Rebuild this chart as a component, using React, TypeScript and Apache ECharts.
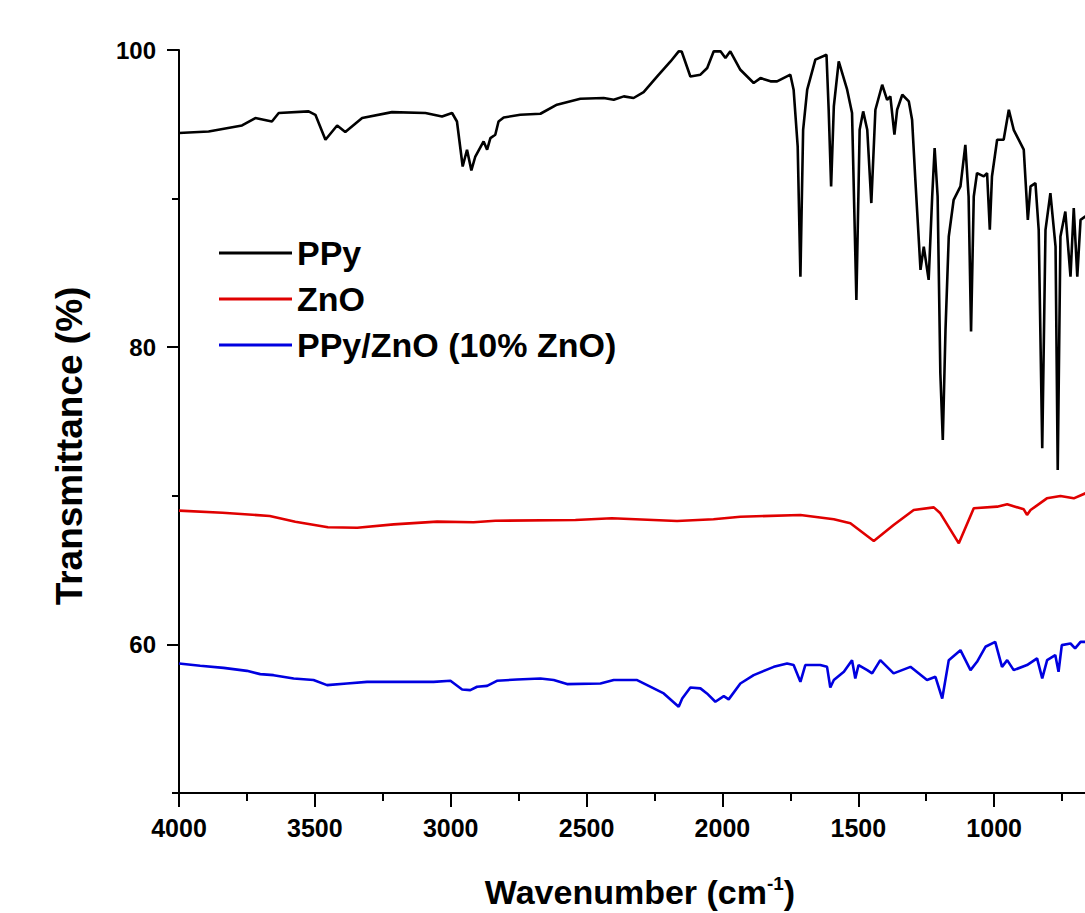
import React, { useEffect, useRef } from "react";
import * as echarts from "echarts";

// ---- Data ----
const ppyWavenumber = [
  4000, 3891, 3768, 3719, 3658, 3633, 3523, 3498, 3461, 3418, 3388, 3326, 3216, 3093, 3032, 2995,
  2977, 2956, 2940, 2924, 2910, 2879, 2866, 2854, 2836, 2824, 2805, 2744, 2670, 2609, 2523, 2437,
  2400, 2363, 2327, 2290, 2240, 2191, 2161, 2150, 2118, 2081, 2056, 2032, 2007, 1989, 1971, 1934,
  1885, 1860, 1823, 1799, 1750, 1738, 1723, 1713, 1703, 1688, 1658, 1617, 1609, 1600, 1590, 1572,
  1541, 1523, 1507, 1495, 1482, 1467, 1452, 1437, 1412, 1394, 1382, 1367, 1357, 1338, 1314, 1302,
  1290, 1271, 1259, 1241, 1228, 1219, 1208, 1198, 1189, 1179, 1167, 1149, 1124, 1106, 1094, 1085,
  1075, 1063, 1038, 1026, 1016, 1008, 989, 965, 946, 928, 891, 876, 866, 848, 836, 823,
  811, 793, 774, 766, 756, 738, 719, 707, 694, 682, 664, 650,
];
const ppyTransmittance = [
  94.41, 94.52, 94.92, 95.42, 95.19, 95.76, 95.87, 95.64, 93.96, 94.92, 94.48, 95.42, 95.82, 95.76, 95.53, 95.76,
  95.19, 92.16, 93.29, 91.9, 92.8, 93.85, 93.29, 94.07, 94.3, 95.19, 95.46, 95.64, 95.71, 96.32, 96.72, 96.77,
  96.65, 96.88, 96.77, 97.17, 98.22, 99.23, 99.91, 99.9, 98.22, 98.34, 98.79, 99.91, 99.91, 99.46, 99.91, 98.67,
  97.78, 98.11, 97.89, 97.89, 98.34, 97.33, 93.51, 84.75, 94.63, 97.33, 99.35, 99.68, 95.98, 90.82, 96.2, 99.23,
  97.33, 95.76, 83.18, 94.63, 95.87, 94.63, 89.7, 95.98, 97.66, 96.65, 96.88, 94.3, 95.98, 96.99, 96.54, 95.31,
  91.27, 85.2, 86.77, 84.53, 90.14, 93.4, 90.14, 78.25, 73.76, 81.17, 87.45, 89.92, 90.82, 93.62, 90.14, 81.05,
  90.14, 91.72, 91.49, 91.72, 87.9, 91.49, 93.96, 93.96, 95.98, 94.63, 93.29, 88.57, 90.82, 91.04, 87.9, 73.2,
  87.9, 90.37, 86.77, 71.74, 87.45, 89.13, 84.75, 89.36, 84.75, 88.57, 88.8, 88.6,
];

const znoWavenumber = [
  4000, 3840, 3666, 3572, 3452, 3344, 3210, 3050, 2916, 2836, 2541, 2407, 2167, 2033, 1934, 1713,
  1590, 1529, 1443, 1370, 1296, 1222, 1198, 1130, 1075, 989, 952, 891, 879, 866, 806, 756,
  707, 664, 650,
];
const znoTransmittance = [
  69.0, 68.86, 68.64, 68.26, 67.88, 67.85, 68.08, 68.26, 68.22, 68.32, 68.37, 68.49, 68.3, 68.42, 68.59, 68.71,
  68.42, 68.15, 66.96, 68.03, 69.04, 69.22, 68.82, 66.8, 69.16, 69.27, 69.43, 69.09, 68.71, 69.04, 69.83, 69.99,
  69.83, 70.17, 70.2,
];

const compWavenumber = [
  4000, 3922, 3836, 3750, 3701, 3652, 3578, 3505, 3455, 3382, 3308, 3185, 3063, 3001, 2958, 2928,
  2903, 2866, 2830, 2756, 2670, 2621, 2572, 2449, 2400, 2314, 2277, 2216, 2161, 2148, 2118, 2081,
  2057, 2026, 1995, 1977, 1934, 1885, 1811, 1762, 1738, 1713, 1695, 1640, 1615, 1603, 1590, 1553,
  1523, 1511, 1499, 1467, 1449, 1419, 1370, 1308, 1247, 1216, 1191, 1167, 1124, 1087, 1063, 1032,
  996, 971, 952, 928, 879, 842, 823, 805, 775, 763, 751, 719, 702, 682, 664, 650,
];
const compTransmittance = [
  58.72, 58.56, 58.42, 58.22, 58.0, 57.93, 57.71, 57.6, 57.26, 57.37, 57.48, 57.48, 57.48, 57.55, 56.97, 56.92,
  57.15, 57.21, 57.55, 57.64, 57.71, 57.6, 57.33, 57.37, 57.6, 57.6, 57.26, 56.7, 55.8, 56.36, 57.1, 57.04,
  56.7, 56.14, 56.52, 56.3, 57.37, 57.93, 58.49, 58.72, 58.61, 57.48, 58.61, 58.61, 58.49, 57.1, 57.6, 58.16,
  58.94, 57.71, 58.61, 58.27, 58.05, 58.94, 58.05, 58.49, 57.6, 57.82, 56.36, 58.94, 59.61, 58.27, 58.83, 59.84,
  60.17, 58.49, 58.94, 58.27, 58.61, 59.06, 57.71, 58.94, 59.28, 58.16, 59.95, 60.06, 59.73, 60.17, 60.17, 60.2,
];

const seriesNames = ["PPy", "ZnO", "PPy/ZnO (10% ZnO)"];
const seriesColors = ["#000000", "#e00000", "#0000e0"];
const xTickValues = [4000, 3500, 3000, 2500, 2000, 1500, 1000, 500];
const xLabelValues = [4000, 3500, 3000, 2500, 2000, 1500, 1000];
const yLabelValues = [60, 80, 100];
const yMinorValues = [50, 70, 90];

const zip = (xs: number[], ys: number[]) => xs.map((x, i) => [x, ys[i]]);

const FONT = "Liberation Sans, Arial, sans-serif";

export default function App() {
  const ref = useRef<HTMLDivElement>(null);

  useEffect(() => {
    if (!ref.current) return;
    const chart = echarts.init(ref.current, undefined, { renderer: "svg" });
    const seriesData = [
      zip(ppyWavenumber, ppyTransmittance),
      zip(znoWavenumber, znoTransmittance),
      zip(compWavenumber, compTransmittance),
    ];
    chart.setOption({
      animation: false,
      backgroundColor: "#ffffff",
      grid: {
        left: 179,
        top: 50,
        right: -45,
        bottom: 120,
        containLabel: false,
        outerBoundsMode: "none",
      },
      legend: {
        orient: "vertical",
        left: 219,
        top: 236,
        padding: 0,
        itemWidth: 73,
        itemHeight: 3,
        itemGap: 12,
        icon: "rect",
        data: seriesNames,
        textStyle: {
          fontFamily: FONT,
          fontWeight: "bold",
          fontSize: 34,
          color: "#000",
          lineHeight: 34,
        },
      },
      xAxis: {
        type: "value",
        min: 500,
        max: 4000,
        interval: 500,
        inverse: true,
        axisLine: { show: true, onZero: false, lineStyle: { color: "#000", width: 2 } },
        axisTick: { show: true, length: 14, lineStyle: { color: "#000", width: 2 }, customValues: xTickValues },
        minorTick: { show: true, splitNumber: 2, length: 8, lineStyle: { color: "#000", width: 2 } },
        splitLine: { show: false },
        minorSplitLine: { show: false },
        axisLabel: {
          margin: 22,
          fontFamily: FONT,
          fontWeight: "bold",
          fontSize: 25,
          color: "#000",
          customValues: xLabelValues,
          formatter: (v: number) => String(v),
        },
      },
      yAxis: [
        {
          type: "value",
          min: 50,
          max: 100,
          position: "left",
          axisLine: { show: true, onZero: false, lineStyle: { color: "#000", width: 2 } },
          axisTick: { show: true, length: 12, lineStyle: { color: "#000", width: 2 }, customValues: yLabelValues },
          splitLine: { show: false },
          axisLabel: {
            margin: 23,
            fontFamily: FONT,
            fontWeight: "bold",
            fontSize: 24,
            color: "#000",
            customValues: yLabelValues,
            formatter: (v: number) => String(v),
          },
        },
        {
          type: "value",
          min: 50,
          max: 100,
          position: "left",
          axisLine: { show: false },
          axisTick: { show: true, length: 7, lineStyle: { color: "#000", width: 2 }, customValues: yMinorValues },
          splitLine: { show: false },
          axisLabel: { show: false },
        },
      ],
      graphic: [
        {
          type: "text",
          x: 69,
          y: 446,
          rotation: Math.PI / 2,
          style: {
            text: "Transmittance (%)",
            fontFamily: FONT,
            fontWeight: "bold",
            fontSize: 37,
            fill: "#000",
            align: "center",
            verticalAlign: "middle",
          },
        },
        {
          type: "text",
          x: 640,
          y: 892,
          style: {
            text: "Wavenumber (cm{sup|-1})",
            fontFamily: FONT,
            fontWeight: "bold",
            fontSize: 34,
            fill: "#000",
            align: "center",
            verticalAlign: "middle",
            rich: {
              sup: {
                fontFamily: FONT,
                fontWeight: "bold",
                fontSize: 19,
                fill: "#000",
                verticalAlign: "top",
                padding: [0, 0, 17, 0],
              },
            },
          },
        },
      ],
      series: seriesNames.map((name, i) => ({
        name,
        type: "line",
        data: seriesData[i],
        showSymbol: false,
        symbol: "none",
        lineStyle: { color: seriesColors[i], width: 2.6 },
        itemStyle: { color: seriesColors[i] },
        clip: true,
        z: 3 - i,
      })),
    });
    return () => chart.dispose();
  }, []);

  return (
    <div
      ref={ref}
      style={{ position: "fixed", left: 0, top: 0, width: 1085, height: 913, background: "#fff" }}
    />
  );
}
